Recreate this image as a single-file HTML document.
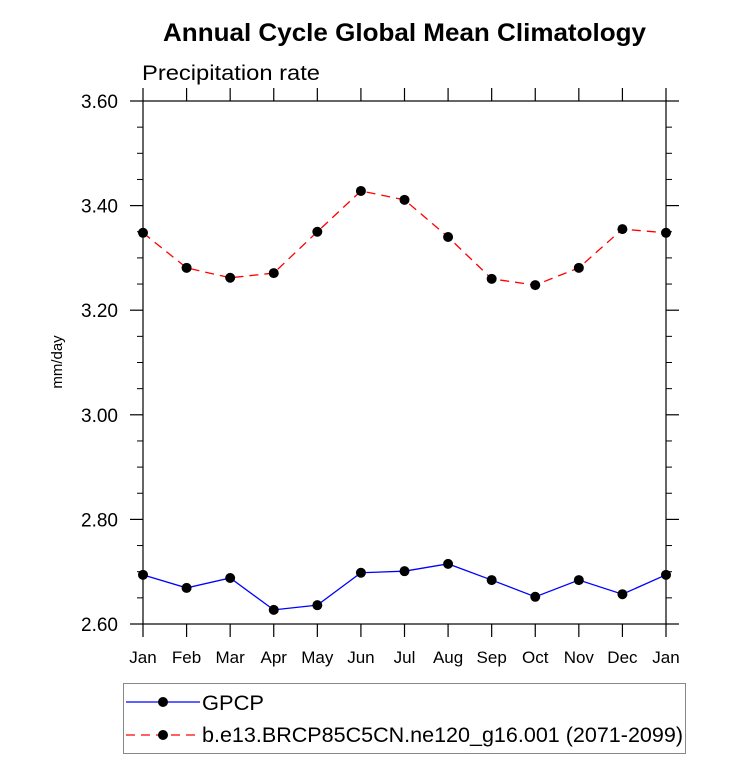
<!DOCTYPE html>
<html><head><meta charset="utf-8"><style>
body{margin:0;background:#fff;width:733px;height:759px;overflow:hidden}
text{font-family:"Liberation Sans",sans-serif}
</style></head><body>
<svg id="chart" width="733" height="759" xmlns="http://www.w3.org/2000/svg">
<text x="163" y="41" font-size="25" font-weight="bold" textLength="483" lengthAdjust="spacingAndGlyphs">Annual Cycle Global Mean Climatology</text>
<text x="142" y="80" font-size="21" textLength="178" lengthAdjust="spacingAndGlyphs">Precipitation rate</text>
<text transform="translate(62,362) rotate(-90)" text-anchor="middle" font-size="15">mm/day</text>
<g id="axes"></g><g id="series"></g>
<g>
<rect x="123.5" y="683.5" width="562" height="70" fill="none" stroke="#888" stroke-width="1"/>
<g>
<line x1="126" y1="702" x2="200" y2="702" stroke="#0000ff" stroke-width="1.3"/>
<circle cx="163" cy="702" r="5" fill="#000"/>
<text x="202" y="710" font-size="21" textLength="62" lengthAdjust="spacingAndGlyphs">GPCP</text></g>
<g>
<line x1="126" y1="735" x2="200" y2="735" stroke="#ff0000" stroke-width="1.3" stroke-dasharray="9,6"/>
<circle cx="163" cy="735" r="5" fill="#000"/>
<text x="202" y="742" font-size="21" textLength="481" lengthAdjust="spacingAndGlyphs">b.e13.BRCP85C5CN.ne120_g16.001 (2071-2099)</text></g>
</g>
</svg>
<script>
const months=["Jan","Feb","Mar","Apr","May","Jun","Jul","Aug","Sep","Oct","Nov","Dec","Jan"];
const gpcp=[2.694,2.669,2.688,2.627,2.636,2.698,2.701,2.715,2.684,2.652,2.684,2.657,2.694];
const model=[3.348,3.281,3.262,3.271,3.350,3.428,3.411,3.340,3.260,3.248,3.281,3.355,3.348];
const yTicks=["2.60","2.80","3.00","3.20","3.40","3.60"];
const NS="http://www.w3.org/2000/svg";
const L=143,R=666,T=101,B=624,ymin=2.6,ymax=3.6;
const xs=i=>L+(R-L)*i/(months.length-1);
const ys=v=>B-(v-ymin)/(ymax-ymin)*(B-T);
function mk(tag,attrs,parent){const e=document.createElementNS(NS,tag);for(const k in attrs)e.setAttribute(k,attrs[k]);parent.appendChild(e);return e;}
const ax=document.getElementById('axes');
const frame=mk('rect',{x:L,y:T,width:R-L,height:B-T,fill:'none',stroke:'#000','stroke-width':1.2},ax);


months.forEach((m,i)=>{const x=xs(i);
mk('line',{x1:x,y1:B,x2:x,y2:B+13,stroke:'#000','stroke-width':1.2},ax);
mk('line',{x1:x,y1:T,x2:x,y2:T-13,stroke:'#000','stroke-width':1.2},ax);
const t=mk('text',{x:x,y:B+39,'text-anchor':'middle','font-size':17},ax);t.textContent=m;

});
yTicks.forEach(s=>{const y=ys(parseFloat(s));
mk('line',{x1:L-13,y1:y,x2:L,y2:y,stroke:'#000','stroke-width':1.2},ax);
mk('line',{x1:R,y1:y,x2:R+13,y2:y,stroke:'#000','stroke-width':1.2},ax);
const t=mk('text',{x:118,y:y+7,'text-anchor':'end','font-size':19},ax);t.textContent=s;

});
for(let v=ymin;v<ymax-1e-6;v+=0.05){if(Math.abs((v-ymin)/0.2-Math.round((v-ymin)/0.2))<1e-6)continue;const y=ys(v);
mk('line',{x1:L-6,y1:y,x2:L,y2:y,stroke:'#000','stroke-width':1},ax);
mk('line',{x1:R,y1:y,x2:R+6,y2:y,stroke:'#000','stroke-width':1},ax);}
const sg=document.getElementById('series');
function draw(data,color,dash,name){
const g=mk('g',{},sg);


mk('polyline',{points:data.map((v,i)=>xs(i)+','+ys(v)).join(' '),fill:'none',stroke:color,'stroke-width':1.3,'stroke-dasharray':dash},g);
data.forEach((v,i)=>{const c=mk('circle',{cx:xs(i),cy:ys(v),r:5,fill:'#000'},g);

});}
draw(gpcp,'#0000ff','none','gpcp-series');
draw(model,'#ff0000','9,6','model-series');
</script>
</body></html>
